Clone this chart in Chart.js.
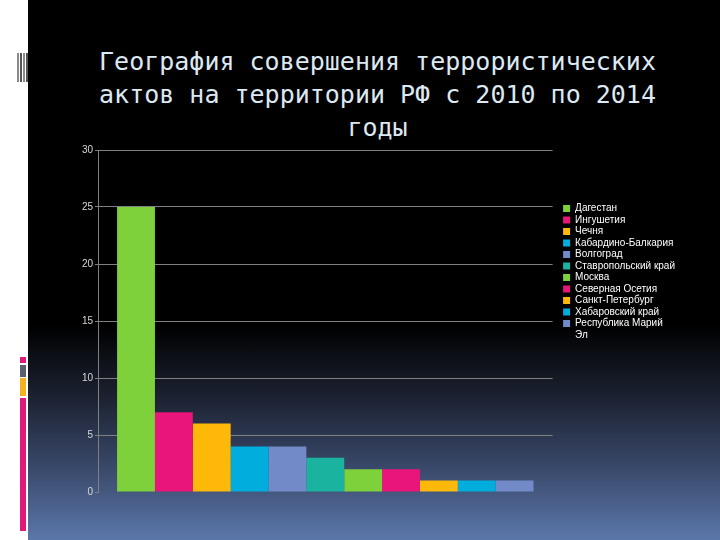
<!DOCTYPE html>
<html lang="ru">
<head>
<meta charset="utf-8">
<script src="https://cdn.jsdelivr.net/npm/chart.js@4"></script>
<style>
  html, body { margin: 0; padding: 0; }
  body { width: 720px; height: 540px; background: #fff; position: relative; overflow: hidden; }
  #panel {
    position: absolute; left: 28px; top: 0; width: 692px; height: 540px;
    background: linear-gradient(to bottom, #000 0%, #000 60%, #1d2333 74%, #3a4a6c 87%, #5b77aa 100%);
  }
  #stripes {
    position: absolute; left: 17px; top: 53px; width: 11px; height: 29px;
    background: repeating-linear-gradient(to right, #8a8a8a 0 2px, #fff 2px 3px, #555 3px 5px, #fff 5px 6px);
  }
  .tab { position: absolute; left: 20px; width: 6px; }
  #title {
    position: absolute; left: 35px; top: 45px; width: 685px;
    text-align: center; color: #dce9f2;
    font: 25px/33px "DejaVu Sans Mono", monospace;
  }
  #wrap { position: absolute; left: 70px; top: 140px; width: 615px; height: 360px; }
</style>
</head>
<body>
<div id="panel"></div>
<div id="stripes"></div>
<div class="tab" style="top:357px;height:6px;background:#e0197a"></div>
<div class="tab" style="top:365px;height:12px;background:#5a6070"></div>
<div class="tab" style="top:378px;height:18px;background:#f5b220"></div>
<div class="tab" style="top:398px;height:133px;background:#e0197a"></div>
<div id="title">География совершения террористических<br>актов на территории РФ с 2010 по 2014<br>годы</div>
<div id="wrap"><canvas id="chart"></canvas></div>
<script>
// --- data ---
const regions = [
  "Дагестан", "Ингушетия", "Чечня", "Кабардино-Балкария", "Волгоград",
  "Ставропольский край", "Москва", "Северная Осетия", "Санкт-Петербург",
  "Хабаровский край", "Республика Марий Эл",
];
const attacks = [25, 7, 6, 4, 4, 3, 2, 2, 1, 1, 1];
const colors = [
  "#7fd13b", "#ea157a", "#feb80a", "#00addc", "#738ac8",
  "#1ab39f", "#7fd13b", "#ea157a", "#feb80a", "#00addc", "#738ac8",
];
const yTicks = [0, 5, 10, 15, 20, 25, 30];

const LEGEND_FONT = { family: "'Liberation Sans', Arial, sans-serif", size: 10 };
const LEGEND_MAX = 102; // px before a legend label wraps

// split a long legend label at its last space so it fits like the original
function wrapLabel(ctx, text) {
  ctx.font = `${LEGEND_FONT.size}px ${LEGEND_FONT.family}`;
  if (ctx.measureText(text).width <= LEGEND_MAX) return text;
  const cut = text.lastIndexOf(" ");
  return cut > 0 ? [text.slice(0, cut), text.slice(cut + 1)] : text;
}

const datasets = regions.map((name, i) => ({
  label: name,
  data: [attacks[i]],
  backgroundColor: colors[i],
  borderWidth: 0,
  categoryPercentage: 0.916,
  barPercentage: 1.0,
}));

new Chart(document.getElementById("chart"), {
  type: "bar",
  data: { labels: [""], datasets },
  options: {
    responsive: true,
    maintainAspectRatio: false,
    animation: false,
    layout: { padding: { top: 10, bottom: 8, left: 0, right: 0 } },
    scales: {
      x: { display: false },
      y: {
        min: 0, max: 30,
        afterBuildTicks: s => { s.ticks = yTicks.map(v => ({ value: v })); },
        afterFit: s => { s.width = 28; },
        border: { color: "#808080", width: 1 },
        grid: {
          color: c => (c.tick && c.tick.value === 0 ? "rgba(0,0,0,0)" : "#808080"),
          tickColor: "#808080",
          tickLength: 3,
        },
        ticks: {
          color: "#d8d8d8",
          padding: 2,
          font: { family: "'Liberation Sans', Arial, sans-serif", size: 10 },
        },
      },
      // empty spacer so the legend sits a little away from the plot
      gap: {
        position: "right",
        display: true,
        grid: { display: false },
        border: { display: false },
        ticks: { display: false },
        afterFit: s => { s.width = 9; },
      },
    },
    plugins: {
      tooltip: { enabled: false },
      legend: {
        position: "right",
        align: "start",
        maxWidth: 200,
        title: { display: true, text: " ", font: { size: 1, lineHeight: 1 }, padding: { top: 51, bottom: 0 } },
        labels: {
          color: "#ffffff",
          font: LEGEND_FONT,
          boxWidth: 7,
          boxHeight: 7,
          padding: 1.5,
          generateLabels: chart => Chart.defaults.plugins.legend.labels.generateLabels(chart)
            .map(item => ({ ...item, text: wrapLabel(chart.ctx, item.text), lineWidth: 0 })),
        },
      },
    },
  },
});
</script>
</body>
</html>
